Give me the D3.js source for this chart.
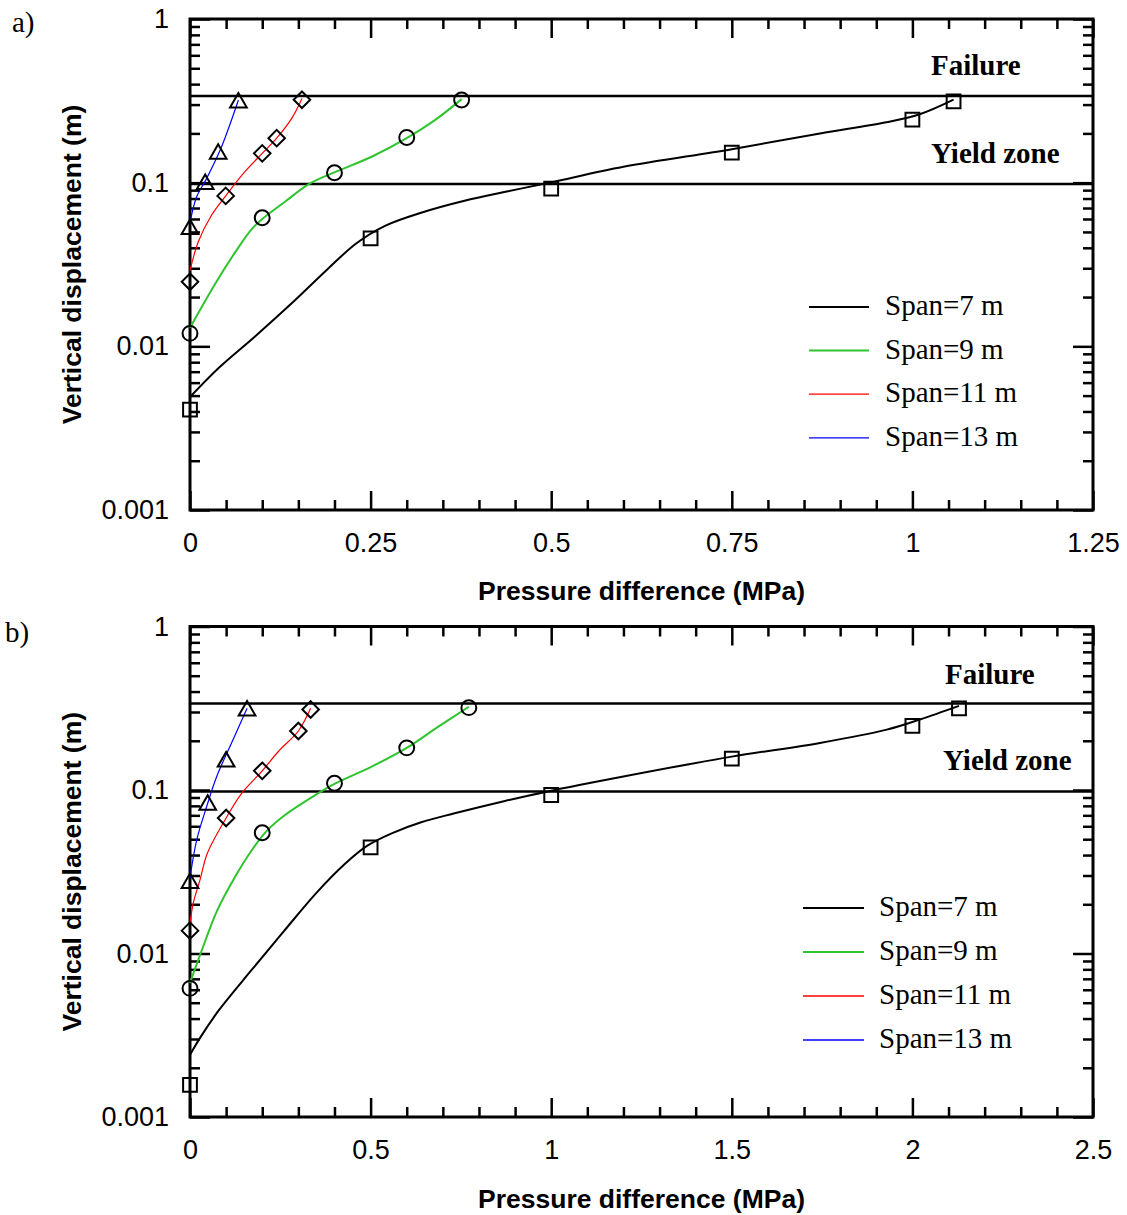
<!DOCTYPE html>
<html>
<head>
<meta charset="utf-8">
<script src="https://cdn.jsdelivr.net/npm/d3@7"></script>
<style>
  body { margin: 0; background: #fff; }
  svg { display: block; }
</style>
</head>
<body>
<svg id="chart" width="1127" height="1215"></svg>
<script>
// ---- Series definitions -------------------------------------------------
const spanLabels = ["Span=7 m", "Span=9 m", "Span=11 m", "Span=13 m"];
const spanColors = ["#000000", "#2fc42f", "#ff0000", "#0000ff"];

// Threshold levels of vertical displacement (m)
const failureLevel = 0.338;
const yieldLevel = 0.098;

// Tick labels
const yTickValues = [0.001, 0.01, 0.1, 1];
const yTickLabels = ["0.001", "0.01", "0.1", "1"];
const xTickValuesA = [0, 0.25, 0.5, 0.75, 1, 1.25];
const xTickLabelsA = ["0", "0.25", "0.5", "0.75", "1", "1.25"];
const xTickValuesB = [0, 0.5, 1, 1.5, 2, 2.5];
const xTickLabelsB = ["0", "0.5", "1", "1.5", "2", "2.5"];

// ---- Panel a: measured points [pressure MPa, displacement m] -----------
const pointsA7  = [[0, 0.0041], [0.25, 0.0457], [0.5, 0.092], [0.75, 0.1525], [1.0, 0.2425], [1.057, 0.314]];
const pointsA9  = [[0, 0.0120], [0.1, 0.061], [0.2, 0.115], [0.3, 0.189], [0.376, 0.320]];
const pointsA11 = [[0, 0.0248], [0.0494, 0.083], [0.1, 0.151], [0.12, 0.187], [0.155, 0.321]];
const pointsA13 = [[0, 0.052], [0.021, 0.098], [0.039, 0.150], [0.067, 0.308]];

// Panel a: fitted curves
const curveA7  = [[0, 0.0049], [0.04, 0.0074], [0.09, 0.0115], [0.14, 0.0182], [0.19, 0.0295], [0.23, 0.0425],
                  [0.27, 0.0545], [0.32, 0.0655], [0.38, 0.0775], [0.44, 0.0885], [0.5, 0.1005],
                  [0.6, 0.125], [0.75, 0.160], [0.872, 0.200], [0.964, 0.234], [1.01, 0.262], [1.057, 0.322]];
const curveA9  = [[0, 0.013], [0.037, 0.025], [0.065, 0.039], [0.0854, 0.052], [0.1, 0.060], [0.1315, 0.0765],
                  [0.164, 0.0977], [0.2, 0.1157], [0.2515, 0.144], [0.3, 0.187], [0.339, 0.241], [0.376, 0.324]];
const curveA11 = [[0, 0.029], [0.0115, 0.0436], [0.03, 0.0634], [0.0494, 0.083], [0.076, 0.1167], [0.1, 0.151],
                  [0.12, 0.187], [0.1408, 0.247], [0.155, 0.327]];
const curveA13 = [[0, 0.057], [0.0092, 0.082], [0.022, 0.104], [0.0415, 0.157], [0.055, 0.225], [0.067, 0.320]];

// ---- Panel b: measured points -------------------------------------------
const pointsB7  = [[0, 0.00157], [0.5, 0.0446], [1.0, 0.0932], [1.5, 0.1554], [2.0, 0.247], [2.129, 0.316]];
const pointsB9  = [[0, 0.00612], [0.2, 0.0548], [0.4, 0.110], [0.6, 0.181], [0.772, 0.319]];
const pointsB11 = [[0, 0.0138], [0.1, 0.0674], [0.2, 0.131], [0.3, 0.2296], [0.334, 0.311]];
const pointsB13 = [[0, 0.0269], [0.049, 0.081], [0.1, 0.149], [0.158, 0.3055]];

// Panel b: fitted curves
const curveB7  = [[0, 0.0024], [0.03, 0.0031], [0.08, 0.0045], [0.17, 0.0079], [0.26, 0.0137], [0.35, 0.0235],
                  [0.43, 0.0355], [0.49, 0.0455], [0.56, 0.0545], [0.64, 0.0635], [0.73, 0.0718], [0.872, 0.0857],
                  [0.987, 0.0977], [1.2, 0.121], [1.5, 0.160], [1.744, 0.194], [1.929, 0.234], [2.021, 0.270], [2.129, 0.327]];
const curveB9  = [[0, 0.0066], [0.028, 0.0098], [0.076, 0.0185], [0.127, 0.030], [0.17, 0.0425], [0.21, 0.0555],
                  [0.263, 0.0703], [0.355, 0.0955], [0.4, 0.109], [0.503, 0.139], [0.6, 0.181], [0.6875, 0.244], [0.772, 0.323]];
const curveB11 = [[0, 0.0152], [0.009, 0.0203], [0.0277, 0.0282], [0.048, 0.041], [0.1, 0.0674], [0.143, 0.0955],
                  [0.2, 0.131], [0.2445, 0.172], [0.3, 0.2296], [0.334, 0.316]];
const curveB13 = [[0, 0.029], [0.0185, 0.0494], [0.046, 0.079], [0.074, 0.121], [0.12, 0.205], [0.158, 0.316]];

// ---- Layout ---------------------------------------------------------------
const plotLeft = 190, plotRight = 1093;
const lineWidths = [2, 2, 1.2, 1.2];

const panels = [
  {
    tag: "a)", tagPos: [12, 32],
    top: 19, bottom: 510, xMax: 1.25,
    xTicks: xTickValuesA, xLabels: xTickLabelsA,
    points: [pointsA7, pointsA9, pointsA11, pointsA13],
    curves: [curveA7, curveA9, curveA11, curveA13],
    legend: { x1: 809, x2: 869, tx: 885, y0: 307, dy: 43.6 },
    failurePos: [931, 75], yieldPos: [931, 163],
    xTitleY: 600
  },
  {
    tag: "b)", tagPos: [5, 642],
    top: 626.5, bottom: 1117, xMax: 2.5,
    xTicks: xTickValuesB, xLabels: xTickLabelsB,
    points: [pointsB7, pointsB9, pointsB11, pointsB13],
    curves: [curveB7, curveB9, curveB11, curveB13],
    legend: { x1: 803, x2: 864, tx: 879, y0: 908, dy: 44 },
    failurePos: [945, 684], yieldPos: [943, 770],
    xTitleY: 1208
  }
];

// Marker shapes: square, circle, diamond, triangle
const diamondType = d3.symbolDiamond2 || {
  draw(ctx, size) { const r = Math.sqrt(size) * 0.62625; ctx.moveTo(0, -r); ctx.lineTo(r, 0); ctx.lineTo(0, r); ctx.lineTo(-r, 0); ctx.closePath(); }
};
const triangleType = d3.symbolTriangle2 || {
  draw(ctx, size) { const s = Math.sqrt(size) * 0.6824, t = s / 2, u = s * Math.sqrt(3) / 2; ctx.moveTo(0, -s); ctx.lineTo(u, t); ctx.lineTo(-u, t); ctx.closePath(); }
};
const markerSymbols = [
  d3.symbol().type(d3.symbolSquare).size(190),
  d3.symbol().type(d3.symbolCircle).size(175),
  d3.symbol().type(diamondType).size(175),
  d3.symbol().type(triangleType).size(200)
];

const svg = d3.select("#chart");
const sansFont = "'Liberation Sans', Arial, Helvetica, sans-serif";
const serifFont = "'Liberation Serif', 'Times New Roman', Times, serif";

function styleAxis(sel) {
  sel.select(".domain").remove();
  sel.selectAll(".tick line").attr("stroke", "#000").attr("stroke-width", 2.5);
  sel.attr("font-family", sansFont).attr("font-size", 27);
  sel.selectAll(".tick text").attr("fill", "#000");
}

function drawPanel(cfg) {
  const g = svg.append("g");
  const x = d3.scaleLinear().domain([0, cfg.xMax]).range([plotLeft, plotRight]);
  const y = d3.scaleLog().domain([0.001, 1]).range([cfg.bottom, cfg.top]);

  const minorX = x.ticks(25).filter(v => !cfg.xTicks.some(t => Math.abs(t - v) < 1e-9));
  const minorY = y.ticks().filter(v => !yTickValues.some(t => Math.abs(t - v) / t < 1e-6));

  // bottom axis
  g.append("g").attr("transform", `translate(0,${cfg.bottom})`)
    .call(d3.axisBottom(x).tickValues(minorX).tickSize(-10).tickSizeOuter(0).tickFormat(""))
    .call(styleAxis);
  g.append("g").attr("transform", `translate(0,${cfg.bottom})`)
    .call(d3.axisBottom(x).tickValues(cfg.xTicks).tickSize(-19).tickSizeOuter(0).tickPadding(23)
      .tickFormat((d, i) => cfg.xLabels[i]))
    .call(styleAxis);
  // top axis
  g.append("g").attr("transform", `translate(0,${cfg.top})`)
    .call(d3.axisTop(x).tickValues(minorX).tickSize(-10).tickSizeOuter(0).tickFormat(""))
    .call(styleAxis);
  g.append("g").attr("transform", `translate(0,${cfg.top})`)
    .call(d3.axisTop(x).tickValues(cfg.xTicks).tickSize(-19).tickSizeOuter(0).tickFormat(""))
    .call(styleAxis);
  // left axis
  g.append("g").attr("transform", `translate(${plotLeft},0)`)
    .call(d3.axisLeft(y).tickValues(minorY).tickSize(-10).tickSizeOuter(0).tickFormat(""))
    .call(styleAxis);
  g.append("g").attr("transform", `translate(${plotLeft},0)`)
    .call(d3.axisLeft(y).tickValues(yTickValues).tickSize(-20).tickSizeOuter(0).tickPadding(21)
      .tickFormat((d, i) => yTickLabels[i]))
    .call(styleAxis);
  // right axis
  g.append("g").attr("transform", `translate(${plotRight},0)`)
    .call(d3.axisRight(y).tickValues(minorY).tickSize(-10).tickSizeOuter(0).tickFormat(""))
    .call(styleAxis);
  g.append("g").attr("transform", `translate(${plotRight},0)`)
    .call(d3.axisRight(y).tickValues(yTickValues).tickSize(-20).tickSizeOuter(0).tickFormat(""))
    .call(styleAxis);

  // frame
  g.append("rect")
    .attr("x", plotLeft).attr("y", cfg.top)
    .attr("width", plotRight - plotLeft).attr("height", cfg.bottom - cfg.top)
    .attr("fill", "none").attr("stroke", "#000").attr("stroke-width", 3);

  // failure / yield thresholds
  [failureLevel, yieldLevel].forEach(level => {
    g.append("line")
      .attr("x1", x(0)).attr("x2", x(cfg.xMax))
      .attr("y1", y(level)).attr("y2", y(level))
      .attr("stroke", "#000").attr("stroke-width", 2.5);
  });
  g.append("text").attr("x", cfg.failurePos[0]).attr("y", cfg.failurePos[1])
    .attr("font-family", serifFont).attr("font-weight", "bold").attr("font-size", 29)
    .text("Failure");
  g.append("text").attr("x", cfg.yieldPos[0]).attr("y", cfg.yieldPos[1])
    .attr("font-family", serifFont).attr("font-weight", "bold").attr("font-size", 29)
    .text("Yield zone");

  // fitted curves
  const line = d3.line().x(d => x(d[0])).y(d => y(d[1])).curve(d3.curveCatmullRom.alpha(0.5));
  cfg.curves.forEach((c, i) => {
    g.append("path").datum(c)
      .attr("d", line)
      .attr("fill", "none")
      .attr("stroke", spanColors[i])
      .attr("stroke-width", lineWidths[i]);
  });

  // measured points
  cfg.points.forEach((pts, i) => {
    g.append("g").selectAll("path").data(pts).join("path")
      .attr("transform", d => `translate(${x(d[0])},${y(d[1])})`)
      .attr("d", markerSymbols[i])
      .attr("fill", "none")
      .attr("stroke", "#000")
      .attr("stroke-width", 2);
  });

  // legend
  const lg = g.append("g");
  spanLabels.forEach((label, i) => {
    const ly = cfg.legend.y0 + i * cfg.legend.dy;
    lg.append("line")
      .attr("x1", cfg.legend.x1).attr("x2", cfg.legend.x2)
      .attr("y1", ly).attr("y2", ly)
      .attr("stroke", spanColors[i]).attr("stroke-width", i < 2 ? 2 : 1.3);
    lg.append("text")
      .attr("x", cfg.legend.tx).attr("y", ly + 8)
      .attr("font-family", serifFont).attr("font-size", 29)
      .text(label);
  });

  // axis titles
  g.append("text")
    .attr("x", (plotLeft + plotRight) / 2).attr("y", cfg.xTitleY)
    .attr("text-anchor", "middle")
    .attr("font-family", sansFont).attr("font-weight", "bold").attr("font-size", 26.5)
    .text("Pressure difference (MPa)");
  g.append("text")
    .attr("transform", `translate(81,${(cfg.top + cfg.bottom) / 2}) rotate(-90)`)
    .attr("text-anchor", "middle")
    .attr("font-family", sansFont).attr("font-weight", "bold").attr("font-size", 26.5)
    .text("Vertical displacement (m)");

  // panel tag
  g.append("text").attr("x", cfg.tagPos[0]).attr("y", cfg.tagPos[1])
    .attr("font-family", serifFont).attr("font-size", 29)
    .text(cfg.tag);
}

panels.forEach(drawPanel);
</script>
</body>
</html>
